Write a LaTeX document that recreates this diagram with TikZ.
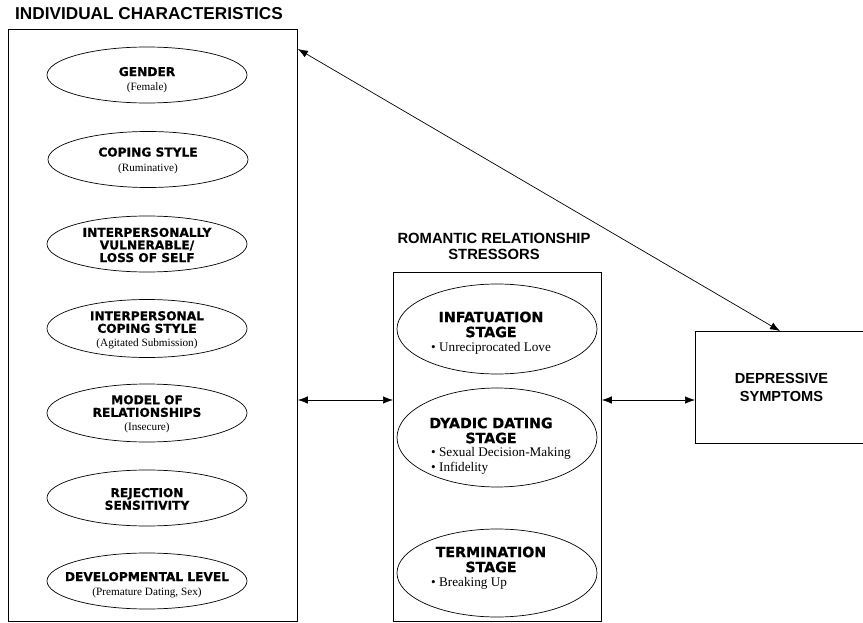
\documentclass[tikz,border=0pt]{standalone}
\usepackage{fontspec}
\setmainfont{Liberation Serif}
\newfontfamily\hvf{Liberation Sans}
\newfontfamily\dvf[BoldFeatures={FakeBold=0.8}]{DejaVu Sans}
\usetikzlibrary{shapes.geometric,arrows.meta,calc}
\newcommand{\lhf}{\dvf\bfseries\fontsize{12.2}{12.6}\selectfont}
\newcommand{\lsf}{\rmfamily\mdseries\fontsize{11.2}{12.6}\selectfont}
\newcommand{\mhf}{\dvf\bfseries\fontsize{14.2}{15}\selectfont}
\newcommand{\msf}{\rmfamily\mdseries\fontsize{13.2}{14.5}\selectfont}
\begin{document}
\begin{tikzpicture}[x=1pt,y=-1pt,
  framebox/.style={draw,line width=0.9pt,inner sep=0,anchor=north west},
  lell/.style={draw,ellipse,line width=0.7pt,minimum width=200pt,minimum height=56pt,inner sep=0},
  mell/.style={draw,ellipse,line width=0.7pt,minimum width=200pt,inner sep=0},
  ltxt/.style={align=center,inner sep=0,font=\lhf},
  mtxt/.style={align=center,inner sep=0,font=\mhf},
  btxt/.style={align=left,inner sep=0,anchor=west,font=\msf},
  ttl/.style={align=center,inner sep=0,font=\hvf\bfseries\fontsize{14.8}{15.5}\selectfont},
  dblarr/.style={{Latex[length=10pt,width=7.5pt]}-{Latex[length=10pt,width=7.5pt]},line width=0.7pt}
]
\useasboundingbox (0,0) rectangle (863,623);

% titles
\node[inner sep=0,anchor=west,font=\hvf\bfseries\fontsize{17.2}{18}\selectfont] (t1) at (15,14) {INDIVIDUAL CHARACTERISTICS};
\node[ttl] (t2) at (494,246.5) {ROMANTIC RELATIONSHIP\\STRESSORS};

% boxes
\node[framebox,minimum width=289pt,minimum height=592pt] (L) at (8,29) {};
\node[framebox,minimum width=208pt,minimum height=349pt] (M) at (393,272) {};
\node[framebox,minimum width=172pt,minimum height=112pt,align=center,
      font=\hvf\bfseries\fontsize{14.6}{18}\selectfont] (D) at (695,331) {DEPRESSIVE\\SYMPTOMS};

% left ellipses
\node[lell] (e1) at (147,75) {};
\node[ltxt] (x1) at (147,80) {GENDER\\[2pt]{\lsf (Female)}};
\node[lell] (e2) at (148,159.5) {};
\node[ltxt] (x2) at (148,160.5) {COPING STYLE\\[2pt]{\lsf (Ruminative)}};
\node[lell] (e3) at (147,244) {};
\node[ltxt] (x3) at (147,245) {INTERPERSONALLY\\VULNERABLE/\\LOSS OF SELF};
\node[lell,minimum height=58pt] (e4) at (147,328.5) {};
\node[ltxt] (x4) at (147,330) {INTERPERSONAL\\COPING STYLE\\[1pt]{\lsf (Agitated Submission)}};
\node[lell,minimum height=58pt] (e5) at (147,413) {};
\node[ltxt] (x5) at (147,414) {MODEL OF\\RELATIONSHIPS\\[1pt]{\lsf (Insecure)}};
\node[lell] (e6) at (147,498) {};
\node[ltxt] (x6) at (147,499) {REJECTION\\SENSITIVITY};
\node[lell] (e7) at (147,581) {};
\node[ltxt] (x7) at (147,585) {DEVELOPMENTAL LEVEL\\[2pt]{\lsf (Premature Dating, Sex)}};

% middle ellipses
\node[mell,minimum height=90pt] (m1) at (497,329) {};
\node[mtxt] (h1) at (491,324.5) {INFATUATION\\STAGE};
\node[btxt] (b1) at (431,348) {\textbullet\ Unreciprocated Love};
\node[mell,minimum height=99pt] (m2) at (497,437.5) {};
\node[mtxt] (h2) at (491,430.5) {DYADIC DATING\\STAGE};
\node[btxt] (b2) at (431,461) {\textbullet\ Sexual Decision-Making\\\textbullet\ Infidelity};
\node[mell,minimum height=88pt] (m3) at (497,573) {};
\node[mtxt] (h3) at (491,559.5) {TERMINATION\\STAGE};
\node[btxt] (b3) at (431,583) {\textbullet\ Breaking Up};

% connectors
\coordinate (ay) at (0,400);
\draw[dblarr] (L.east |- ay) -- (M.west |- ay);
\draw[dblarr] (M.east |- ay) -- (D.west |- ay);
\draw[dblarr] ($(L.north east)+(0,20)$) -- ($(D.north west)+(85,0)$);
\end{tikzpicture}
\end{document}
